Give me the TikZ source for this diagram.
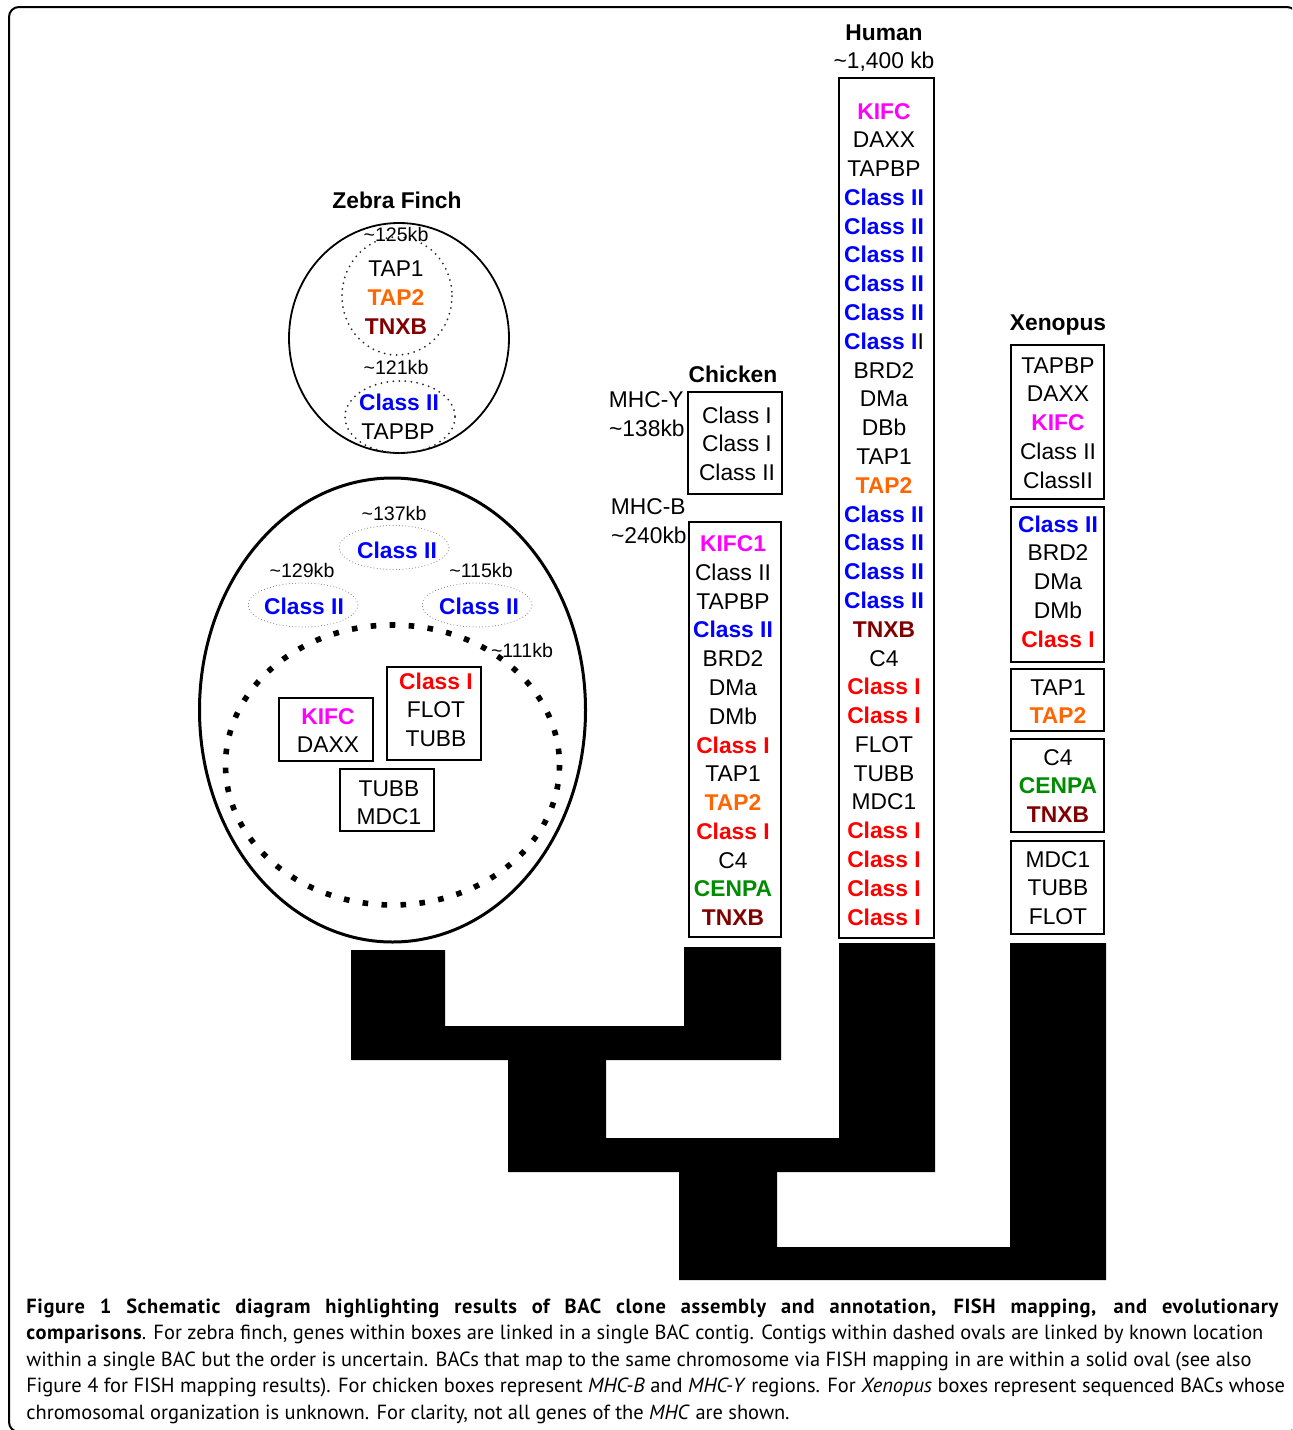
\documentclass[tikz,border=0pt]{standalone}
\usepackage{fontspec}
\setmainfont{Liberation Sans}
\newfontfamily\capfont[BoldFeatures={LetterSpace=3}]{PT Sans}
\definecolor{cb}{RGB}{0,0,255}
\definecolor{cr}{RGB}{255,0,0}
\definecolor{cm}{RGB}{255,0,255}
\definecolor{co}{RGB}{255,102,0}
\definecolor{cd}{RGB}{128,0,0}
\definecolor{cg}{RGB}{0,140,0}
\newcommand\gfont{\fontsize{11.4}{13}\selectfont}
\newcommand\kfont{\fontsize{9.8}{11}\selectfont}
\newcommand\gB[1]{{\bfseries\color{cb}#1}}
\newcommand\gR[1]{{\bfseries\color{cr}#1}}
\newcommand\gM[1]{{\bfseries\color{cm}#1}}
\newcommand\gO[1]{{\bfseries\color{co}#1}}
\newcommand\gD[1]{{\bfseries\color{cd}#1}}
\newcommand\gG[1]{{\bfseries\color{cg}#1}}
% column of genes: prefix, x, y of first row centre, list
\newcommand\genecolumn[4]{%
  \foreach \tx [count=\i from 0] in {#4} {%
    \node[gt] (#1\i) at (#2, {#3+8+\i*28.79}) {\tx};
  }}
\newcommand\bacbox[5]{%
  \node[gbox, minimum width={(#4-#2)*0.5pt}, minimum height={(#5-#3)*0.5pt}]
    (#1) at ({(#2+#4)/2},{(#3+#5)/2}) {};}
\begin{document}
\begin{tikzpicture}[x=0.5pt,y=-0.5pt,
  gt/.style={anchor=base, inner sep=0pt, font=\gfont},
  kb/.style={anchor=base, inner sep=0pt, font=\kfont},
  ttl/.style={anchor=base, inner sep=0pt, font=\gfont\bfseries},
  gbox/.style={draw, line width=1pt, inner sep=0pt, outer sep=0pt},
  captext/.style={anchor=base west, inner sep=0pt, font=\capfont\fontsize{10.23}{12}\selectfont},
  finedots/.style={draw=black!85, line width=1pt, line cap=round, dash pattern=on 0pt off 3pt},
  smalldots/.style={draw=black!55, line width=0.5pt, line cap=round, dash pattern=on 0pt off 1.6pt},
  bigdots/.style={draw, line width=2.8pt, dash pattern=on 2.8pt off 6.7pt},
  tree/.style={fill=black}]
\useasboundingbox (0,0) rectangle (1292,1430);
\begin{scope}
  \clip (0,0) rectangle (1292,1430);
  \draw[line width=1pt, rounded corners=5pt] (9,7) rectangle (1297,1432);
\end{scope}

% ---------------- Zebra finch ----------------
\node[ttl] (zf) at (397,208) {Zebra Finch};
\draw[line width=0.9pt] (399,338) ellipse [x radius=110, y radius=115];
\draw[finedots] (397,296) ellipse [x radius=55, y radius=59];
\draw[finedots] (400,417) ellipse [x radius=55, y radius=36];
\node[kb] (zk1) at (396,241) {\textasciitilde125kb};
\node[gt] (zt1) at (396,276) {TAP1};
\node[gt] (zt2) at (396,305) {\gO{TAP2}};
\node[gt] (zt3) at (396,334) {\gD{TNXB}};
\node[kb] (zk2) at (396,374) {\textasciitilde121kb};
\node[gt] (zc2) at (399,410) {\gB{Class II}};
\node[gt] (ztb) at (398,439) {TAPBP};

\draw[line width=1.5pt] (392.5,710) ellipse [x radius=193, y radius=232];
\draw[smalldots] (394,547.5) ellipse [x radius=55, y radius=22];
\draw[smalldots] (303,605) ellipse [x radius=55, y radius=22];
\draw[smalldots] (477,605) ellipse [x radius=55, y radius=22];
\node[kb] (zk3) at (394,520) {\textasciitilde137kb};
\node[kb] (zk4) at (302,577) {\textasciitilde129kb};
\node[kb] (zk5) at (481,577) {\textasciitilde115kb};
\node[gt] (zc3) at (397,558) {\gB{Class II}};
\node[gt] (zc4) at (304,614) {\gB{Class II}};
\node[gt] (zc5) at (479,614) {\gB{Class II}};
\draw[bigdots] (392.5,765) ellipse [x radius=167, y radius=140];
\node[kb] (zk6) at (522,657) {\textasciitilde111kb};
\bacbox{zb1}{279}{698}{373}{761}
\bacbox{zb2}{387}{667}{481}{760}
\bacbox{zb3}{340}{769}{434}{831}
\node[gt] (zkifc) at (328,724) {\gM{KIFC}};
\node[gt] (zdaxx) at (328,752) {DAXX};
\node[gt] (zci) at (436,689) {\gR{Class I}};
\node[gt] (zflot) at (436,717) {FLOT};
\node[gt] (ztubb) at (436,746) {TUBB};
\node[gt] (ztubb2) at (389,796) {TUBB};
\node[gt] (zmdc) at (389,824) {MDC1};

% ---------------- Chicken ----------------
\node[ttl] (ch) at (733,382) {Chicken};
\node[gt, anchor=base east] (mhcy) at (684,407) {MHC-Y};
\node[gt, anchor=base east] (mhcyk) at (685,436) {\textasciitilde138kb};
\node[gt, anchor=base east] (mhcb) at (686,514) {MHC-B};
\node[gt, anchor=base east] (mhcbk) at (687,543) {\textasciitilde240kb};
\bacbox{cy}{688}{392}{782}{494}
\genecolumn{cyg}{737}{415}{Class I, Class I, Class II}
\bacbox{cbx}{689}{522}{781}{937}
\genecolumn{cbg}{733}{543.5}{\gM{KIFC1}, Class II, TAPBP, \gB{Class II}, BRD2, DMa, DMb, \gR{Class I}, TAP1, \gO{TAP2}, \gR{Class I}, C4, \gG{CENPA}, \gD{TNXB}}

% ---------------- Human ----------------
\node[ttl] (hu) at (884,40) {Human};
\node[gt] (huk) at (884,68) {\textasciitilde1,400 kb};
\bacbox{hbx}{839}{78}{934}{938}
\genecolumn{hg}{884}{111}{\gM{KIFC}, DAXX, TAPBP, \gB{Class II}, \gB{Class II}, \gB{Class II}, \gB{Class II}, \gB{Class II}, \gB{Class I}I, BRD2, DMa, DBb, TAP1, \gO{TAP2}, \gB{Class II}, \gB{Class II}, \gB{Class II}, \gB{Class II}, \gD{TNXB}, C4, \gR{Class I}, \gR{Class I}, FLOT, TUBB, MDC1, \gR{Class I}, \gR{Class I}, \gR{Class I}, \gR{Class I}}

% ---------------- Xenopus ----------------
\node[ttl] (xe) at (1058,330) {Xenopus};
\bacbox{xb1}{1011}{345}{1104}{499}
\genecolumn{xg1}{1058}{365}{TAPBP, DAXX, \gM{KIFC}, Class II, ClassII}
\bacbox{xb2}{1011}{507}{1104}{662}
\genecolumn{xg2}{1058}{524}{\gB{Class II}, BRD2, DMa, DMb, \gR{Class I}}
\bacbox{xb3}{1011}{669}{1104}{731}
\genecolumn{xg3}{1058}{687}{TAP1, \gO{TAP2}}
\bacbox{xb4}{1011}{739}{1104}{832}
\genecolumn{xg4}{1058}{757}{C4, \gG{CENPA}, \gD{TNXB}}
\bacbox{xb5}{1011}{841}{1104}{934}
\genecolumn{xg5}{1058}{859}{MDC1, TUBB, FLOT}

% ---------------- Tree ----------------
\fill[tree] (351,950) -- (445,950) -- (445,1026) -- (684,1026) -- (684,947) -- (781,947)
  -- (781,1060) -- (351,1060) -- cycle;
\fill[tree] (508,1059) -- (606,1059) -- (606,1138) -- (839,1138) -- (839,943) -- (935,943)
  -- (935,1172) -- (508,1172) -- cycle;
\fill[tree] (679,1171) -- (777,1171) -- (777,1247) -- (1010,1247) -- (1010,943) -- (1106,943)
  -- (1106,1280) -- (679,1280) -- cycle;

% ---------------- Caption ----------------
\node[captext] (l1) at (26,1313) {\makebox[626pt][s]{\bfseries Figure 1 Schematic diagram highlighting results of BAC clone assembly and annotation, FISH mapping, and evolutionary}};
\node[captext] (l2) at (26,1339.6) {\textbf{comparisons}. For zebra finch, genes within boxes are linked in a single BAC contig. Contigs within dashed ovals are linked by known location};
\node[captext] (l3) at (26,1366.2) {within a single BAC but the order is uncertain. BACs that map to the same chromosome via FISH mapping in are within a solid oval (see also};
\node[captext] (l4) at (26,1392.8) {Figure 4 for FISH mapping results). For chicken boxes represent \textit{MHC-B} and \textit{MHC-Y} regions. For \textit{Xenopus} boxes represent sequenced BACs whose};
\node[captext] (l5) at (26,1419.4) {chromosomal organization is unknown. For clarity, not all genes of the \textit{MHC} are shown.};
\end{tikzpicture}
\end{document}
